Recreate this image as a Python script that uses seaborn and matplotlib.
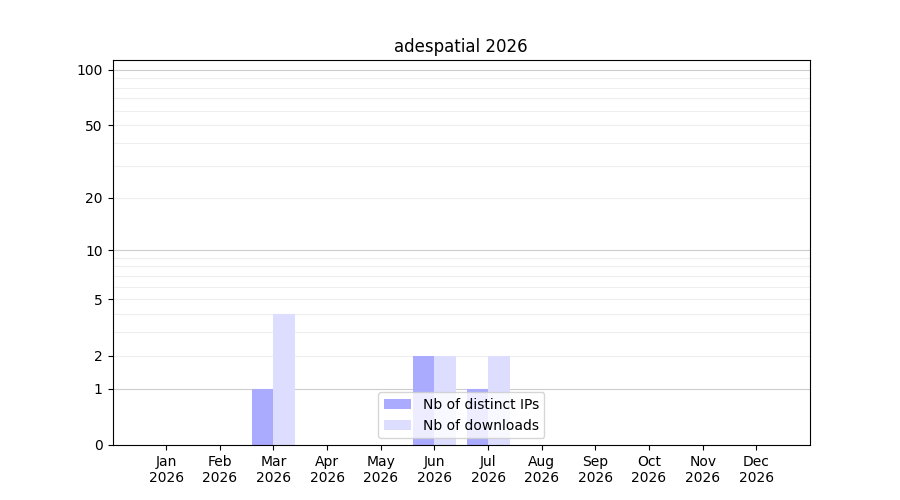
import numpy as np
import pandas as pd
import matplotlib
matplotlib.use("Agg")
import matplotlib.pyplot as plt
import seaborn as sns

months = ["Jan\n2026", "Feb\n2026", "Mar\n2026", "Apr\n2026", "May\n2026", "Jun\n2026",
          "Jul\n2026", "Aug\n2026", "Sep\n2026", "Oct\n2026", "Nov\n2026", "Dec\n2026"]
distinct_ips = [0, 0, 1, 0, 0, 2, 1, 0, 0, 0, 0, 0]
downloads = [0, 0, 4, 0, 0, 2, 2, 0, 0, 0, 0, 0]
series_names = ["Nb of distinct IPs", "Nb of downloads"]
series_colors = ["#aaaaff", "#ddddff"]
ytick_values = [0, 1, 2, 5, 10, 20, 50, 100]
title = "adespatial 2026"

df = pd.DataFrame({
    "month": months * 2,
    "value": distinct_ips + downloads,
    "series": [series_names[0]] * len(months) + [series_names[1]] * len(months),
})

fig, ax = plt.subplots(figsize=(9, 5), dpi=100)


def fwd(x):
    x = np.asarray(x, dtype=float)
    with np.errstate(invalid="ignore", divide="ignore"):
        return np.log10(1 + np.maximum(x, -0.9999))


def inv(y):
    return 10 ** np.asarray(y, dtype=float) - 1


sns.barplot(data=df, x="month", y="value", hue="series", order=months,
            hue_order=series_names, palette=series_colors, saturation=1,
            linewidth=0, width=0.8, ax=ax)

ax.set_yscale("function", functions=(fwd, inv))
ax.set_ylim(0, 113)
ax.set_xlim(-1, 12)
ax.set_yticks(ytick_values)
ax.set_yticklabels([str(v) for v in ytick_values])
minor = [3, 4, 6, 7, 8, 9, 30, 40, 60, 70, 80, 90]
ax.set_yticks(minor, minor=True)
ax.tick_params(axis="y", which="minor", length=0)
ax.set_axisbelow(True)
ax.grid(True, axis="y", which="major")
ax.grid(True, axis="y", which="minor", color="#eeeeee", linewidth=0.8)
for t, v in zip(ax.yaxis.get_major_ticks(), ytick_values):
    if v in (1, 10, 100):
        t.gridline.set_color("#cccccc")
    elif v == 0:
        t.gridline.set_visible(False)
    else:
        t.gridline.set_color("#eeeeee")
    t.gridline.set_linewidth(0.8)
ax.grid(False, axis="x")

ax.set_xlabel("")
ax.set_ylabel("")
ax.set_title(title)
ax.legend(loc="lower center", title=None)
fig.subplots_adjust(left=0.125, right=0.9, top=0.88, bottom=0.11)
fig.savefig("out.png", dpi=100)
